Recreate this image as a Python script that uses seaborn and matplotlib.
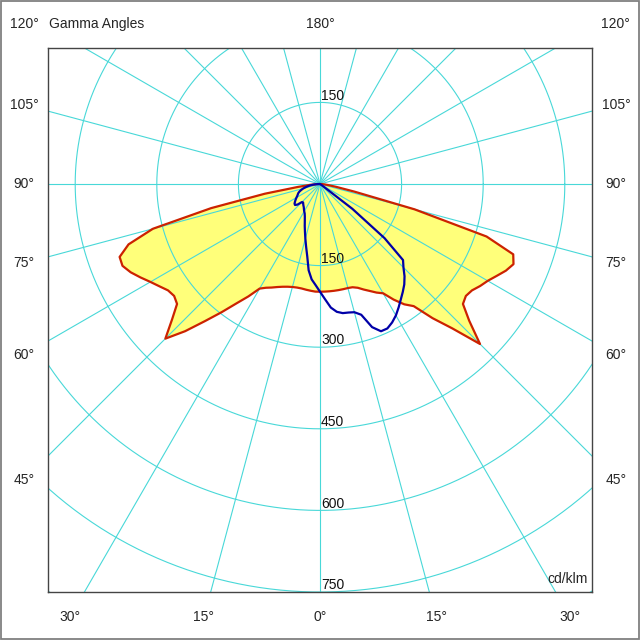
import numpy as np
import pandas as pd
import matplotlib
matplotlib.use("Agg")
import matplotlib.pyplot as plt
import seaborn as sns
from matplotlib.patches import Rectangle

# ---------------- data (cd/klm) ----------------
gamma = [0, 2.5, 5, 7.5, 10, 12.5, 15, 17.5, 20, 22.5, 25, 27.5, 30, 32.5, 35,
         37.5, 40, 42.5, 45, 47.5, 50, 52.5, 55, 57.5, 60, 62.5, 65, 67.5, 70,
         72.5, 75, 77.5, 80, 82.5, 85, 87.5, 90]

# C0 - C180 plane (red, filled)
red_left = [198, 198, 197, 196, 195, 195, 196, 198, 201, 205, 210, 215, 222, 245, 268,
            297, 329, 367, 402, 369, 343, 338, 341, 350, 360, 372, 384, 393, 392,
            369, 318, 205, 103, 40, 18, 7, 0]
red_right = [198, 198, 198, 198, 198, 198, 198, 199, 203, 210, 217, 225, 232, 252, 270,
             283, 322, 360, 416, 372, 343, 338, 341, 349, 356, 366, 377, 385, 378,
             321, 180, 65, 30, 15, 8, 3, 0]

# C90 - C270 plane (blue)
blue_left = [198, 186, 176, 160, 135, 118, 104, 92, 82, 73, 66, 61, 58, 55, 52,
             50, 48, 46, 47, 56, 60, 59, 56, 53, 50, 47, 45, 43, 40,
             36, 32, 27, 22, 17, 11, 5, 0]
blue_right = [198, 212, 228, 237, 241, 242, 244, 252, 280, 293, 293, 287, 279, 269, 259,
              250, 241, 230, 217, 207, 155, 75, 5, 0, 0, 0, 0, 0, 0,
              0, 0, 0, 0, 0, 0, 0, 0]

ring_values = [150, 300, 450, 600, 750]
spoke_step = 15
side_labels = [45, 60, 75, 90, 105]
bottom_labels = [30, 15, 0, 15, 30]


def to_xy(left, right):
    g = np.radians(np.array(gamma))
    L = np.array(left, float)
    R = np.array(right, float)
    xl = -L * np.sin(g)
    yl = -L * np.cos(g)
    xr = R * np.sin(g)
    yr = -R * np.cos(g)
    x = np.concatenate([xl[::-1], xr[1:]])
    y = np.concatenate([yl[::-1], yr[1:]])
    return pd.DataFrame({"x": x, "y": y, "order": np.arange(len(x))})


red_df = to_xy(red_left, red_right)
blue_df = to_xy(blue_left, blue_right)

sns.set_theme(style="white")
plt.rcParams['font.family'] = ['Liberation Sans', 'DejaVu Sans']

fig = plt.figure(figsize=(6.4, 6.4), dpi=100)
ax = fig.add_axes([48 / 640, 48 / 640, 544 / 640, 544 / 640])
ax.set_xlim(-500, 500)
ax.set_ylim(-750, 250)
ax.set_aspect('equal', adjustable='box')

grid_c = '#48d8d8'
# rings
t = np.linspace(0, 2 * np.pi, 721)
for r in ring_values + [900]:
    ax.plot(r * np.cos(t), r * np.sin(t), color=grid_c, lw=0.8, zorder=2)
# spokes
for a in range(0, 360, spoke_step):
    ar = np.radians(a)
    ax.plot([0, 1200 * np.sin(ar)], [0, -1200 * np.cos(ar)], color=grid_c, lw=0.8, zorder=2)

# fill + curves
ax.fill(red_df["x"], red_df["y"], color='#ffff7a', zorder=1, lw=0)
sns.lineplot(data=red_df, x="x", y="y", sort=False, estimator=None, color='#cc2200',
             lw=1.6, ax=ax, zorder=3, solid_joinstyle='round', solid_capstyle='round')
sns.lineplot(data=blue_df, x="x", y="y", sort=False, estimator=None, color='#0000a8',
             lw=1.6, ax=ax, zorder=4, solid_joinstyle='round', solid_capstyle='round')

# ring labels
fs = 10
ax.text(2, ring_values[0] + 5, str(ring_values[0]), ha='left', va='baseline', fontsize=fs,
        color='#111111', zorder=5)
for r in ring_values:
    ax.text(2, -r + 5, str(r), ha='left', va='baseline', fontsize=fs, color='#111111', zorder=5)

ax.set_xticks([])
ax.set_yticks([])
ax.set_xlabel("")
ax.set_ylabel("")
for s in ax.spines.values():
    s.set_visible(True)
    s.set_color('#444444')
    s.set_linewidth(1.0)

# outer labels (in data coords, outside the axes)
xs = 544
for g in side_labels:
    yy = -xs * np.cos(np.radians(g)) / np.sin(np.radians(g))
    ax.text(-xs, yy, f"{g}°", ha='center', va='center', fontsize=fs, clip_on=False)
    ax.text(xs, yy, f"{g}°", ha='center', va='center', fontsize=fs, clip_on=False)
yb = -796
for i, g in enumerate(bottom_labels):
    sgn = -1 if i < 2 else 1
    xx = sgn * abs(yb) * np.tan(np.radians(g))
    ax.text(xx, yb, f"{g}°", ha='center', va='center', fontsize=fs, clip_on=False)
ytop = 294
ax.text(-xs, ytop, "120°", ha='center', va='center', fontsize=fs, clip_on=False)
ax.text(xs, ytop, "120°", ha='center', va='center', fontsize=fs, clip_on=False)
ax.text(0, ytop, "180°", ha='center', va='center', fontsize=fs, clip_on=False)
ax.text(-498, ytop, "Gamma Angles", ha='left', va='center', fontsize=fs, clip_on=False)

ax.text(0.9926, 0.0165, "cd/klm", transform=ax.transAxes, ha='right', va='baseline',
        fontsize=fs, zorder=5)

fig.patches.append(Rectangle((1.2 / 640, 1.2 / 640), 637.3 / 640, 637.6 / 640,
                             transform=fig.transFigure, fill=False,
                             edgecolor='#808080', lw=1.3))

fig.savefig("out.png", dpi=100)
